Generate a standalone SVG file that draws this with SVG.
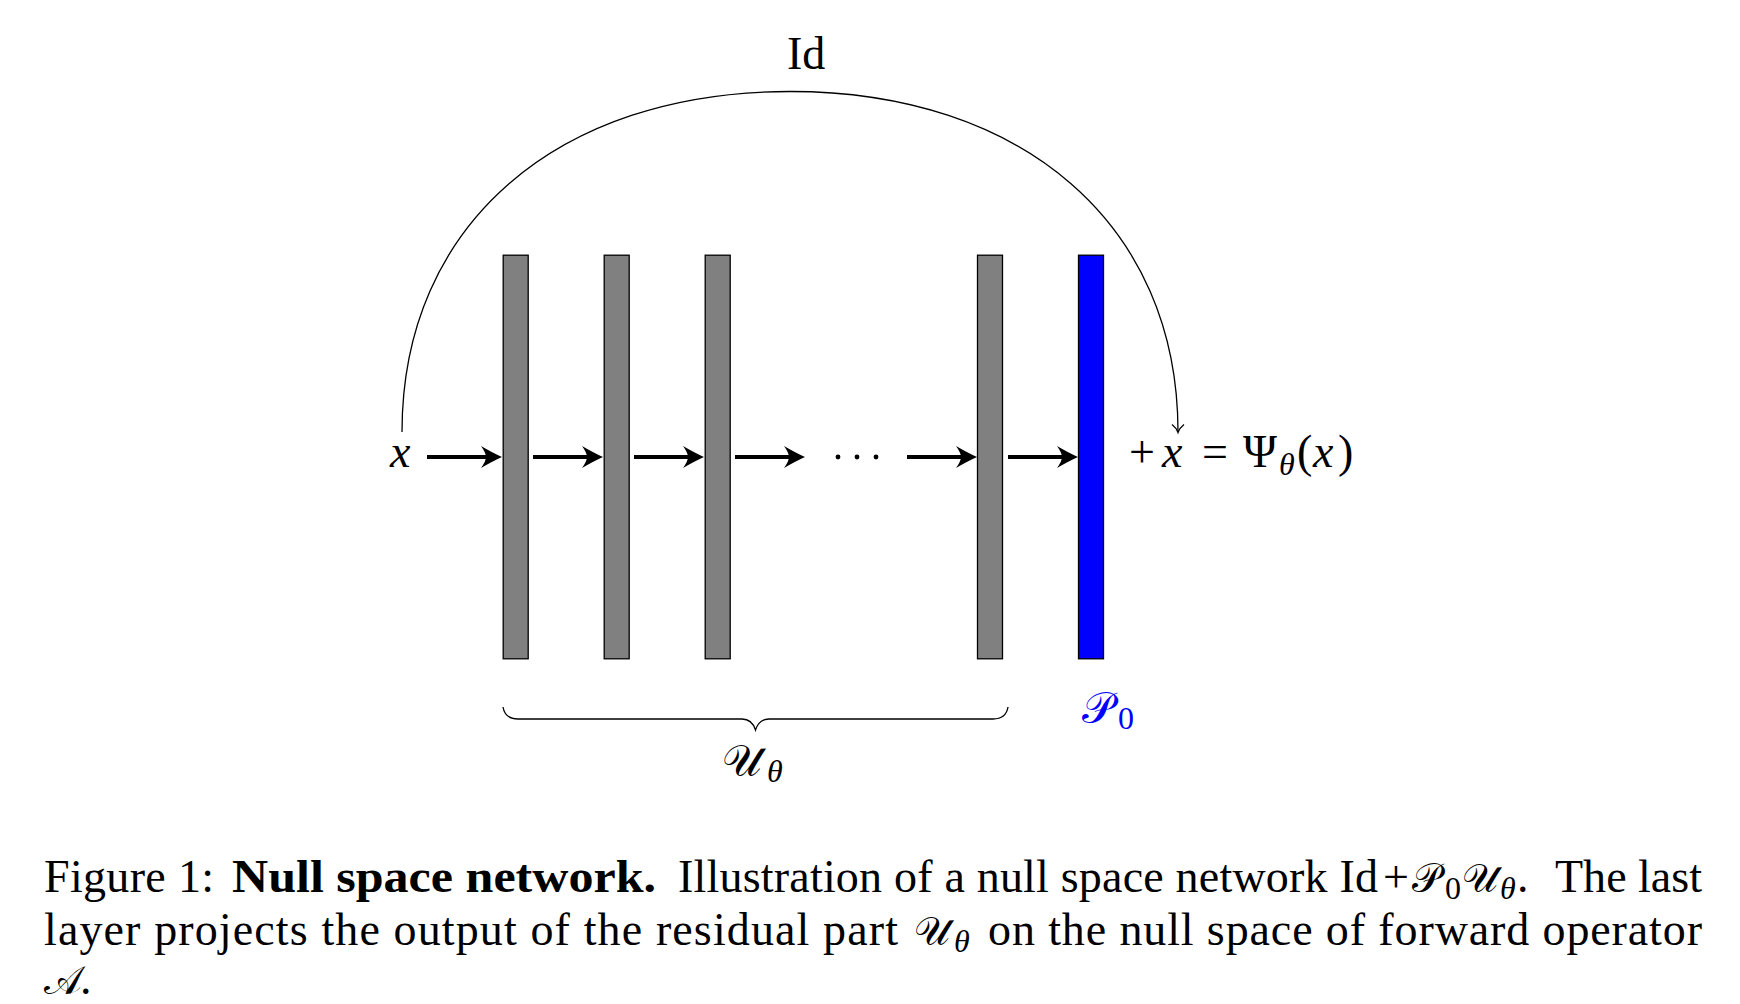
<svg xmlns="http://www.w3.org/2000/svg" width="1740" height="1004" viewBox="0 0 1740 1004">
<style>
.t{font-family:"Liberation Serif","Times New Roman",serif;font-size:46px;fill:#000}
.i{font-style:italic}
.b{font-weight:bold}
.s{font-size:32px}
.cal{font-family:"DejaVu Sans","Liberation Serif",serif;font-style:normal}
.c40{font-size:40px}
.c44{font-size:44px}
.bar{fill:#808080;stroke:#000;stroke-width:1.3}
.blue{fill:#0000ff;stroke:#000;stroke-width:1.3}
.shaft{stroke:#000;stroke-width:4.2;fill:none}
.thin{stroke:#000;stroke-width:1.3;fill:none}
</style>
<defs>
<path id="ah" d="M0,0 Q-9,-4 -21,-11 Q-16,-4 -16,0 Q-16,4 -21,11 Q-9,4 0,0 Z" fill="#000"/>
</defs>
<rect width="1740" height="1004" fill="#fff"/>
<g id="layer1"><rect class="bar" x="503.2" y="255.2" width="25" height="403.6"/></g>
<g id="layer2"><rect class="bar" x="604.2" y="255.2" width="25" height="403.6"/></g>
<g id="layer3"><rect class="bar" x="705.2" y="255.2" width="25" height="403.6"/></g>
<g id="layer4"><rect class="bar" x="977.5" y="255.2" width="25" height="403.6"/></g>
<g id="P0"><rect class="blue" x="1078.5" y="255.2" width="25" height="403.6"/>
<text class="t cal c44" x="1082" y="723" style="fill:#0000ff">𝒫</text>
<text class="t s" x="1118" y="729" style="fill:#0000ff">0</text></g>
<g id="connectors">
<line class="shaft" x1="427" y1="457" x2="490" y2="457"/><use href="#ah" x="502" y="457"/>
<line class="shaft" x1="533" y1="457" x2="591" y2="457"/><use href="#ah" x="603" y="457"/>
<line class="shaft" x1="634" y1="457" x2="692" y2="457"/><use href="#ah" x="704" y="457"/>
<line class="shaft" x1="735" y1="457" x2="793" y2="457"/><use href="#ah" x="805" y="457"/>
<line class="shaft" x1="907" y1="457" x2="965" y2="457"/><use href="#ah" x="977" y="457"/>
<line class="shaft" x1="1008" y1="457" x2="1066" y2="457"/><use href="#ah" x="1078" y="457"/>
<path class="thin" d="M402,432 C402,224 558,91.5 790,91.5 C1022,91.5 1178,224 1178,432"/>
<path class="thin" d="M1172,424.5 Q1176.5,428 1178,432.5 Q1179.5,428 1184,424.5"/>
</g>
<g id="dots" fill="#000"><circle cx="838" cy="457" r="2.4"/><circle cx="857" cy="457" r="2.4"/><circle cx="876" cy="457" r="2.4"/></g>
<g id="input"><text class="t i" x="390" y="467">x</text></g>
<g id="output">
<text class="t" x="1129" y="467">+</text>
<text class="t i" x="1162" y="467">x</text>
<text class="t" x="1202" y="467">=</text>
<text class="t" x="1243" y="467">Ψ</text>
<text class="t i s" x="1279" y="475">θ</text>
<text class="t" x="1297" y="467">(</text>
<text class="t i" x="1313" y="467">x</text>
<text class="t" x="1338" y="467">)</text>
</g>
<g id="id-label"><text class="t" x="787" y="69">Id</text></g>
<g id="brace">
<path class="thin" d="M503,707 Q505,719 518,719 L742,719 Q752,719 755.5,730 Q759,719 769,719 L993,719 Q1006,719 1008,707"/>
<text class="t cal c44" x="722" y="776">𝒰</text>
<text class="t i s" x="767" y="782">θ</text>
</g>
<g id="caption">
<text class="t" x="44" y="892" textLength="170" lengthAdjust="spacing">Figure 1:</text>
<text class="t b" x="232" y="892" textLength="424" lengthAdjust="spacingAndGlyphs">Null space network.</text>
<text class="t" x="678" y="892" textLength="700" lengthAdjust="spacing">Illustration of a null space network Id</text>
<text class="t" x="1383" y="892">+</text>
<text class="t cal c40" x="1412" y="892">𝒫</text>
<text class="t s" x="1445" y="899">0</text>
<text class="t cal c40" x="1462" y="892">𝒰</text>
<text class="t i s" x="1500" y="899">θ</text>
<text class="t" x="1517" y="892">.</text>
<text class="t" x="1555" y="892" textLength="147" lengthAdjust="spacing">The last</text>
<text class="t" x="44" y="945" textLength="854" lengthAdjust="spacing">layer projects the output of the residual part</text>
<text class="t cal c40" x="914" y="945">𝒰</text>
<text class="t i s" x="954" y="952">θ</text>
<text class="t" x="988" y="945" textLength="714" lengthAdjust="spacing">on the null space of forward operator</text>
<text class="t cal c40" x="44" y="994">𝒜</text>
<text class="t" x="80" y="994">.</text>
</g>
</svg>
